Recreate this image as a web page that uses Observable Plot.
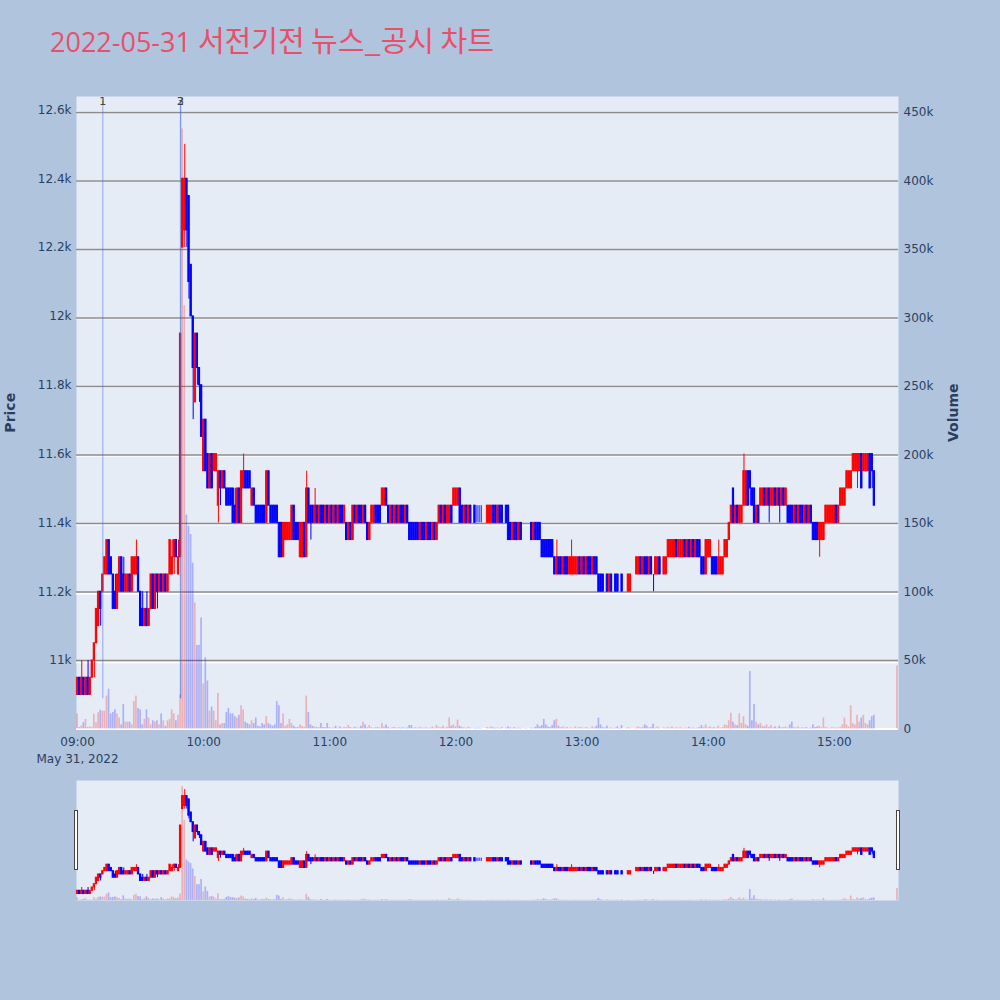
<!DOCTYPE html>
<html><head><meta charset="utf-8">
<script src="https://cdn.jsdelivr.net/npm/d3@7"></script>
<script src="https://cdn.jsdelivr.net/npm/@observablehq/plot@0.6"></script>
<style>
html,body{margin:0;padding:0;background:#b0c4de;}
#wrap{position:relative;width:1000px;height:1000px;background:#b0c4de;overflow:hidden;}
#title{position:absolute;left:50px;top:19px;font-size:27px;line-height:40px;color:#ea4f6a;font-family:"Open Sans","Noto Sans CJK KR",sans-serif;white-space:nowrap;}
#title .ko{font-size:29px;font-family:"Noto Sans CJK KR","Open Sans",sans-serif;}
#main,#slider{position:absolute;left:0;}
#main{top:0;width:1000px;height:770px;}
#slider{top:780px;width:1000px;height:120px;}
#main svg,#slider svg{position:absolute;left:0;top:0;}
.grab{position:absolute;box-sizing:border-box;width:4px;height:60px;background:#fff;border:1px solid #444;}
</style></head>
<body><div id="wrap"><div id="title">2022-05-31 <span class="ko">서전기전 뉴스_공시 차트</span></div><div id="main"></div><div id="slider"></div></div>
<script>
// ---------- DATA (1-minute candles, 09:00 .. 15:30) ----------
const startTime = "2022-05-31T09:00:00";
const ohlc09 = [
[10900,10950,10900,10950],[10950,10950,10900,10900],[10900,11000,10900,10950],[10950,10950,10900,10900],[10900,10950,10900,10950],
[10950,11000,10900,10900],[10900,10950,10900,10950],[10950,11000,10950,11000],[11000,11050,10950,11050],[11050,11150,11050,11150],
[11100,11200,11100,11200],[11200,11200,11100,11150],[11200,11250,11200,11250],[11250,11300,11250,11300],[11250,11350,11250,11350],
[11350,11350,11250,11250],[11300,11300,11250,11250],[11250,11250,11150,11150],[11200,11250,11150,11150],[11150,11250,11150,11250],
[11200,11300,11200,11300],[11300,11300,11200,11200],[11250,11300,11200,11200],[11200,11250,11200,11250],[11200,11250,11200,11250],
[11250,11250,11200,11200],[11200,11300,11200,11300],[11250,11300,11250,11300],[11250,11350,11250,11300],[11300,11300,11200,11200],
[11200,11200,11100,11100],[11150,11200,11100,11100],[11100,11150,11100,11150],[11150,11200,11100,11100],[11100,11150,11100,11150],
[11150,11250,11150,11250],[11250,11250,11150,11150],[11150,11250,11150,11250],[11250,11250,11150,11200],[11200,11250,11200,11250],
[11250,11250,11200,11200],[11200,11250,11200,11250],[11250,11250,11200,11200],[11200,11250,11200,11250],[11250,11350,11250,11350],
[11250,11350,11250,11300],[11300,11350,11250,11350],[11350,11350,11300,11300],[11250,11350,11250,11300],[11300,11950,11300,11950],
[12200,12400,12200,12400],[12250,12500,12200,12400],[12400,12400,12200,12250],[12350,12350,12050,12100],[12150,12150,12000,12000],
[12000,12000,11700,11850],[11750,11950,11750,11950],[11950,11950,11800,11850],[11850,11850,11750,11800],[11800,11800,11650,11650]
];
const ohlc10 = [
[11550,11700,11550,11700],[11700,11700,11550,11550],[11600,11600,11500,11500],[11500,11600,11500,11600],[11600,11600,11500,11500],
[11550,11600,11550,11600],[11550,11600,11550,11600],[11450,11550,11400,11550],[11550,11550,11450,11500],[11500,11550,11500,11550],
[11550,11550,11500,11500],[11500,11500,11450,11450],[11500,11500,11450,11450],[11500,11500,11450,11450],[11500,11500,11400,11400],
[11450,11500,11400,11400],[11400,11500,11400,11500],[11500,11500,11400,11400],[11400,11550,11400,11550],[11500,11600,11500,11550],
[11550,11550,11500,11500],[11550,11550,11500,11500],[11550,11550,11500,11500],[11450,11500,11450,11500],[11500,11500,11450,11450],
[11450,11450,11400,11400],[11450,11450,11400,11400],[11450,11450,11400,11400],[11450,11450,11400,11400],[11450,11450,11400,11400],
[11400,11550,11400,11550],[11550,11550,11450,11450],[11450,11450,11400,11400],[11450,11450,11400,11400],[11450,11450,11400,11400],
[11450,11450,11400,11400],[11400,11400,11300,11300],[11400,11400,11300,11300],[11300,11400,11300,11400],[11350,11400,11350,11400],
[11350,11400,11350,11400],[11350,11400,11350,11400],[11350,11450,11350,11450],[11450,11450,11350,11350],[11400,11400,11350,11350],
[11400,11400,11350,11350],[11300,11400,11300,11400],[11300,11400,11300,11400],[11400,11400,11300,11300],[11300,11550,11300,11500],
[11500,11500,11400,11400],[11450,11450,11350,11400],[11450,11450,11400,11400],[11400,11500,11400,11450],[11450,11450,11400,11400],
[11400,11450,11400,11450],[11450,11450,11400,11400],[11450,11450,11400,11400],[11400,11450,11400,11450],[11450,11450,11400,11400]
];
const ohlc11 = [
[11400,11450,11400,11450],[11450,11450,11400,11400],[11400,11450,11400,11450],[11450,11450,11400,11400],[11400,11450,11400,11450],
[11450,11450,11400,11400],[11450,11450,11400,11400],[11400,11450,11400,11450],[11400,11400,11350,11350],[11350,11400,11350,11400],
[11400,11400,11350,11350],[11350,11450,11350,11450],[11450,11450,11400,11400],[11400,11450,11400,11450],[11450,11450,11400,11400],
[11450,11450,11400,11400],[11400,11450,11400,11450],[11450,11450,11400,11400],[11400,11400,11350,11350],[11350,11400,11350,11400],
[11400,11450,11400,11450],[11400,11450,11400,11450],[11450,11450,11400,11400],[11450,11450,11400,11400],[11450,11450,11400,11400],
[11450,11500,11450,11500],[11450,11500,11450,11500],[11500,11500,11450,11450],[11450,11450,11400,11400],[11400,11450,11400,11450],
[11450,11450,11400,11400],[11400,11450,11400,11450],[11450,11450,11400,11400],[11400,11450,11400,11450],[11450,11450,11400,11400],
[11450,11450,11400,11400],[11400,11450,11400,11450],[11450,11450,11400,11400],[11400,11400,11350,11350],[11400,11400,11350,11350],
[11400,11400,11350,11350],[11400,11400,11350,11350],[11400,11400,11350,11350],[11350,11400,11350,11400],[11400,11400,11350,11350],
[11400,11400,11350,11350],[11350,11400,11350,11400],[11400,11400,11350,11350],[11400,11400,11350,11350],[11350,11400,11350,11400],
[11400,11400,11350,11350],[11350,11400,11350,11400],[11400,11450,11400,11450],[11450,11450,11400,11400],[11400,11450,11400,11450],
[11450,11450,11400,11400],[11400,11450,11400,11450],[11400,11450,11400,11450],[11450,11450,11400,11400],[11450,11500,11450,11500]
];
const ohlc12 = [
[11450,11500,11450,11500],[11450,11500,11450,11500],[11500,11500,11400,11400],[11450,11450,11400,11400],[11400,11450,11400,11450],
[11450,11450,11400,11400],[11400,11450,11400,11450],[11450,11450,11400,11400],null,[11450,11450,11400,11400],
[11400,11450,11400,11400],[11400,11450,11400,11400],[11400,11450,11400,11400],null,null,
[11400,11450,11400,11450],[11400,11450,11400,11450],[11400,11450,11400,11450],[11450,11450,11400,11400],[11450,11450,11400,11400],
[11400,11450,11400,11450],[11450,11450,11400,11400],[11450,11450,11400,11400],null,[11450,11450,11400,11400],
[11450,11450,11350,11350],[11400,11400,11350,11350],[11350,11400,11350,11400],[11400,11400,11350,11350],[11400,11400,11350,11350],
[11350,11400,11350,11400],[11400,11400,11350,11350],null,[11350,11350,11350,11350],[11350,11350,11350,11350],
null,[11400,11400,11350,11350],[11350,11400,11350,11400],[11400,11400,11350,11350],[11400,11400,11350,11350],
[11400,11400,11350,11350],[11350,11350,11300,11300],[11350,11350,11300,11300],[11350,11350,11300,11300],[11350,11350,11300,11300],
[11350,11350,11300,11300],[11350,11350,11300,11300],[11300,11300,11250,11250],[11250,11350,11250,11300],[11300,11300,11250,11250],
[11300,11300,11250,11250],[11250,11300,11250,11300],[11300,11300,11250,11250],[11300,11300,11250,11250],[11250,11300,11250,11300],
[11250,11350,11250,11300],[11250,11300,11250,11300],[11250,11300,11250,11300],[11250,11300,11250,11300],[11300,11300,11250,11250]
];
const ohlc13 = [
[11250,11300,11250,11300],[11300,11300,11250,11250],[11250,11300,11250,11300],[11300,11300,11250,11250],[11300,11300,11250,11250],
[11250,11300,11250,11300],[11300,11300,11250,11250],[11300,11300,11250,11250],[11250,11250,11200,11200],[11250,11250,11200,11200],
[11250,11250,11200,11200],[11200,11200,11200,11200],[11250,11250,11200,11200],[11200,11250,11200,11250],[11250,11250,11200,11200],
[11200,11200,11200,11200],[11250,11250,11200,11200],[11250,11250,11200,11200],[11200,11200,11200,11200],[11250,11250,11200,11200],
null,[11200,11200,11200,11200],[11200,11250,11200,11250],[11200,11250,11200,11250],null,
[11250,11250,11250,11250],[11250,11300,11250,11300],[11250,11300,11250,11300],[11300,11300,11250,11250],[11250,11300,11250,11300],
[11300,11300,11250,11250],[11300,11300,11250,11250],[11250,11300,11250,11300],[11300,11300,11250,11250],[11250,11250,11200,11250],
[11250,11300,11250,11300],[11250,11300,11250,11300],[11300,11300,11250,11250],null,[11250,11300,11250,11300],
[11250,11300,11250,11300],[11300,11350,11300,11350],[11300,11350,11300,11350],[11300,11350,11300,11350],[11300,11350,11300,11350],
[11350,11350,11300,11300],[11300,11350,11300,11350],[11300,11350,11300,11350],[11300,11350,11300,11350],[11350,11350,11300,11300],
[11300,11350,11300,11350],[11350,11350,11300,11300],[11300,11350,11300,11350],[11350,11350,11300,11300],[11300,11350,11300,11350],
[11350,11350,11300,11300],[11350,11350,11300,11300],[11300,11300,11250,11250],[11300,11300,11250,11250],[11250,11350,11250,11350]
];
const ohlc14 = [
[11300,11350,11300,11350],[11300,11350,11300,11350],[11300,11300,11250,11250],[11300,11300,11250,11250],[11300,11300,11250,11250],
[11250,11350,11250,11300],[11250,11300,11250,11300],[11250,11300,11250,11300],[11300,11350,11300,11350],[11300,11350,11300,11350],
[11350,11400,11350,11400],[11400,11450,11400,11450],[11500,11500,11400,11400],[11400,11450,11400,11450],[11450,11450,11400,11400],
[11400,11450,11400,11450],[11400,11450,11400,11450],[11450,11600,11450,11550],[11450,11550,11450,11550],[11550,11550,11450,11450],
[11550,11550,11450,11500],[11500,11500,11450,11450],[11500,11500,11400,11400],[11400,11450,11400,11450],[11450,11450,11400,11400],
[11450,11500,11450,11500],[11450,11500,11450,11500],[11500,11500,11450,11450],[11450,11500,11450,11500],[11500,11500,11400,11450],
[11450,11500,11450,11500],[11450,11500,11450,11500],[11500,11500,11450,11450],[11450,11500,11450,11500],[11500,11500,11400,11450],
[11450,11500,11450,11500],[11500,11500,11450,11450],[11450,11500,11450,11500],[11450,11450,11400,11400],[11450,11450,11400,11400],
[11450,11450,11400,11400],[11400,11450,11400,11450],[11450,11450,11400,11400],[11400,11450,11400,11450],[11450,11450,11400,11400],
[11450,11450,11400,11400],[11400,11450,11400,11450],[11450,11450,11400,11400],[11400,11450,11400,11450],[11450,11450,11400,11400],
[11400,11400,11350,11350],[11400,11400,11350,11350],[11400,11400,11350,11350],[11350,11400,11300,11400],[11350,11400,11350,11400],
[11350,11400,11350,11400],[11400,11450,11400,11450],[11400,11450,11400,11450],[11400,11450,11400,11450],[11400,11450,11400,11450]
];
const ohlc15 = [
[11400,11450,11400,11450],[11450,11450,11400,11400],[11400,11450,11400,11450],[11450,11500,11450,11500],[11450,11500,11450,11500],
[11450,11500,11450,11500],[11500,11550,11500,11550],[11500,11550,11500,11550],[11500,11550,11500,11550],[11550,11600,11550,11600],
[11550,11600,11550,11600],[11550,11600,11500,11600],[11550,11600,11550,11600],[11600,11600,11500,11500],[11550,11600,11550,11600],
[11550,11600,11550,11600],[11550,11600,11550,11600],[11600,11600,11500,11500],[11600,11600,11500,11550],[11550,11550,11450,11450],
null,null,null,null,null,null,null,null,null,null,
[11600,11600,11600,11600]
];
const vol09 = [
11000,1000,2200,4600,7000, 1000,1500,1200,10800,4600, 11800,13700,13000,13000,24000,
29000,11000,12000,14000,11000, 8000,3000,18000,5000,5000, 5000,3000,20000,24000,15000,
14000,3000,7000,14000,8000, 3000,6000,5000,6000,3000, 11000,6000,2000,6000,7000,
14000,11000,6000,10000,25000, 438000,309000,156000,148000,142000, 121000,92000,61000,61000,81000
];
const vol10 = [
33000,52000,35000,13000,16000, 13000,6000,26000,3000,4000, 4000,12000,15000,11000,11000,
9000,8000,10000,17000,14000, 5000,4000,3000,6000,4000, 8000,2000,1500,4000,3000,
9000,4000,3000,2000,3000, 20000,17000,4000,11000,2000, 3000,7000,4000,2000,1000,
1000,3000,2000,1000,24000, 12000,3000,2000,1500,1000, 1000,4000,1000,1000,4000
];
const vol11 = [
1000,500,800,2000,500, 1500,500,1200,800,2500, 1000,500,1200,800,600,
2000,5000,3000,800,2500, 1000,500,800,1000,600, 4000,1500,3000,1000,500,
800,1200,500,1000,600, 900,500,700,2500,2500, 600,800,500,1200,700,
500,900,400,600,1500, 500,2500,1000,800,2000, 600,1200,8000,2000,3000
];
const vol12 = [
1500,6500,2000,1000,800, 500,1200,600,null,400, 300,500,300,null,null,
1000,600,1500,800,500, 700,400,900,null,600, 1500,800,500,1000,400,
700,500,null,300,200, null,600,500,1200,3000, 1500,2500,7000,3000,1500,
1000,2500,6000,7000,2000, 800,1500,600,1000,500, 800,400,1500,600,1000
];
const vol13 = [
800,500,1000,600,400, 1500,700,2000,8000,3000, 1000,600,2000,500,800,
300,600,1500,400,2500, null,300,1000,600,null, 200,800,1500,600,1200,
3000,2000,800,1000,3500, 600,1500,500,null,800, 600,1000,700,1500,500,
800,600,900,400,500, 600,1200,500,700,400, 600,1000,2500,800,3000
];
const vol14 = [
800,1500,600,1000,500, 2000,600,1000,3000,2500, 6000,11500,5000,3000,2500,
11000,4000,9000,3000,2000, 42000,6000,18000,5000,3000, 4000,2000,1500,3000,1000,
2500,800,1500,600,2000, 1000,800,1500,600,3000, 5000,1000,700,1500,500,
800,600,1000,400,700, 3000,1000,1500,2000,1000, 8000,1200,700,500,900
];
const vol15 = [
900,600,700,1000,3000, 8000,3000,1500,17000,4000, 3000,10000,5000,8000,10000,
4000,3000,6000,9000,10000, null,null,null,null,null,null,null,null,null,null,
46000
];
const priceTicks = [11000,11200,11400,11600,11800,12000,12200,12400,12600];
const volumeTicks = [0,50000,100000,150000,200000,250000,300000,350000,400000,450000];
const hourTicks = ["09:00","10:00","11:00","12:00","13:00","14:00","15:00"];
const eventTimes = ["09:12","09:49","09:49"];
const eventLabels = ["1","2","3"];
const dateLabel = "May 31, 2022";
const priceDomain = [10801, 12639];
const volumeDomain = [0, 461700];

// ---------- BUILD ----------
const RED = "#ff0000", BLUE = "#0000ff", BG = "#e5ecf6", INK = "#2a3f5f";
const FONT = "'DejaVu Sans', Verdana, sans-serif";
const base = new Date(startTime);
const tAt = i => new Date(base.getTime() + i * 60000);
const atClock = s => new Date(`2022-05-31T${s}:00`);
const ohlcRows = [].concat(ohlc09, ohlc10, ohlc11, ohlc12, ohlc13, ohlc14, ohlc15);
const volRows = [].concat(vol09, vol10, vol11, vol12, vol13, vol14, vol15);
const candles = [];
let prevC = null, prevInc = true;
ohlcRows.forEach((r, i) => {
  if (!r) return;
  const [o, h, l, c] = r;
  let inc;
  if (c > o) inc = true; else if (c < o) inc = false;
  else if (prevC == null) inc = true;
  else if (c > prevC) inc = true; else if (c < prevC) inc = false; else inc = prevInc;
  prevC = c; prevInc = inc;
  const t = tAt(i);
  candles.push({t, o, h, l, c, lo: Math.min(o, c), hi: Math.max(o, c), vol: volRows[i] || 0, col: inc ? RED : BLUE,
    b1: new Date(+t - 18000), b2: new Date(+t + 18000), v1: new Date(+t - 24000), v2: new Date(+t + 24000)});
});
const xDomain = [tAt(-0.5), tAt(ohlcRows.length - 0.5)];
const events = eventTimes.map((s, i) => ({t: atClock(s), label: eventLabels[i]}));
const lineLow = d3.min(candles, d => d.l) * 0.999, lineHigh = d3.max(candles, d => d.h) * 1.01;
const fmt = d3.format("~s");

const W = 1000, ML = 76, MR = 102;
const style = {background: "transparent", fontFamily: FONT, fontSize: "12px", color: INK, overflow: "visible"};
const mainBox = {width: W, height: 770, marginLeft: ML, marginRight: MR, marginTop: 96, marginBottom: 41.5, style, color: {type: "identity"}};
const slideBox = {width: W, height: 120, marginLeft: ML, marginRight: MR, marginTop: 0, marginBottom: 0, style, color: {type: "identity"}};
const xHidden = {type: "time", domain: xDomain, axis: null};

const candleMarks = (wick) => [
  Plot.ruleX(candles, {x: "t", y1: "l", y2: "h", stroke: "col", strokeWidth: wick}),
  Plot.rect(candles, {x1: "b1", x2: "b2", y1: "lo", y2: "hi", fill: "col", stroke: "col", strokeWidth: 1})
];
const volumeMarks = () => [
  Plot.rect(candles, {x1: "v1", x2: "v2", y1: 0, y2: "vol", fill: "col", fillOpacity: 0.25})
];

const main = document.getElementById("main");
// layer 1: background + price grid
main.appendChild(Plot.plot({...mainBox, x: xHidden, y: {domain: priceDomain, axis: null},
  marks: [Plot.frame({fill: BG, stroke: "none"}), Plot.ruleY(priceTicks, {stroke: "#ffffff", strokeWidth: 1.5, dy: 2})]}));
// layer 2: volume (right axis)
main.appendChild(Plot.plot({...mainBox, x: xHidden,
  y: {domain: volumeDomain, axis: "right", ticks: volumeTicks, tickFormat: fmt, tickSize: 0, tickPadding: 5, label: null},
  marks: [
    Plot.ruleY(volumeTicks.filter(v => v > 0), {stroke: "#8c8c8c", strokeWidth: 1.5}),
    Plot.ruleY([0], {stroke: "#ffffff", strokeWidth: 2}),
    ...volumeMarks(),
    Plot.text(["Volume"], {text: d => d, frameAnchor: "right", dx: 55, rotate: -90, textAnchor: "middle", fontWeight: "bold", fontSize: 14, fill: INK})
  ]}));
// layer 3: candles, events, axes
main.appendChild(Plot.plot({...mainBox,
  x: {type: "time", domain: xDomain, ticks: hourTicks.map(atClock), tickFormat: d3.timeFormat("%H:%M"), tickSize: 0, tickPadding: 8.5, label: null},
  y: {domain: priceDomain, ticks: priceTicks, tickFormat: fmt, tickSize: 0, tickPadding: 5, label: null},
  marks: [
    ...candleMarks(1),
    Plot.ruleX(events, {x: "t", y1: lineLow, y2: lineHigh, stroke: "#4169e1", strokeOpacity: 0.4, strokeWidth: 1.3}),
    Plot.text(events, {x: "t", text: "label", frameAnchor: "top", dy: 1, fill: "#444", fontSize: 11}),
    Plot.text([dateLabel], {x: [tAt(0)], text: d => d, frameAnchor: "bottom", lineAnchor: "top", dy: 25, fill: INK}),
    Plot.text(["Price"], {text: d => d, frameAnchor: "left", dx: -66, rotate: -90, textAnchor: "middle", fontWeight: "bold", fontSize: 14, fill: INK})
  ]}));

// range slider
const slider = document.getElementById("slider");
const s1 = Plot.plot({...slideBox, x: xHidden, y: {domain: volumeDomain, axis: null},
  marks: [Plot.frame({fill: BG, stroke: "none"}), ...volumeMarks()]});
slider.appendChild(s1);
slider.appendChild(Plot.plot({...slideBox, x: xHidden, y: {domain: priceDomain, axis: null}, marks: candleMarks(1)}));
const sx = s1.scale("x");
for (const d of xDomain) {
  const g = document.createElement("div");
  g.className = "grab";
  g.style.left = (sx.apply(d) - 2) + "px";
  g.style.top = "30px";
  slider.appendChild(g);
}
</script>
</body></html>
